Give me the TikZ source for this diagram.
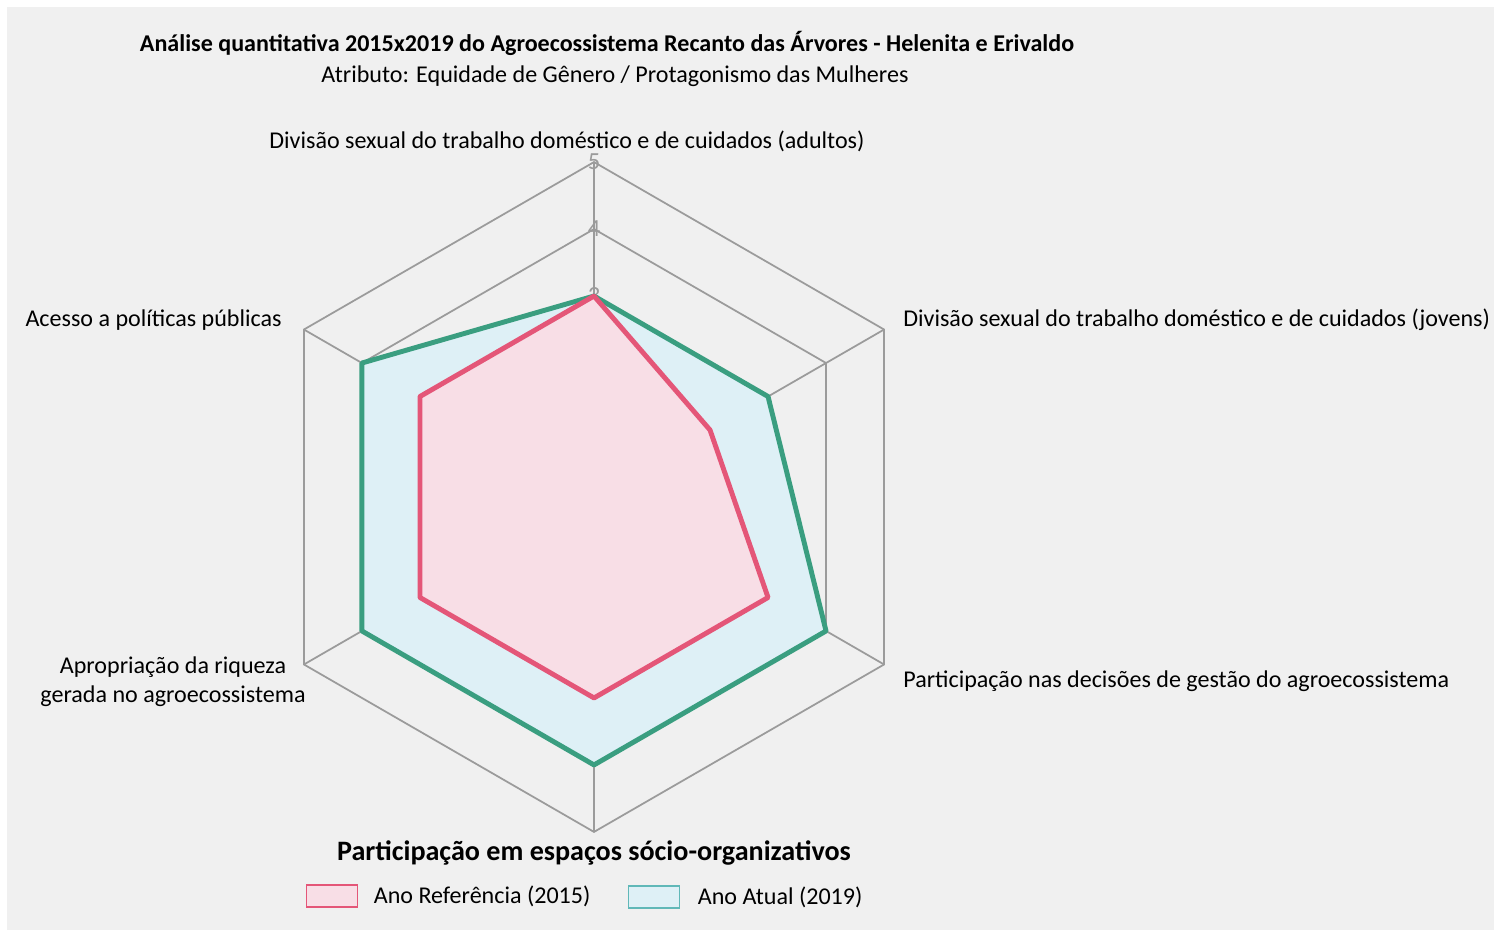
\documentclass[tikz,border=0pt]{standalone}
\usepackage{fontspec}
\setmainfont{Carlito}
\usepackage{xcolor}
\usetikzlibrary{positioning}
\definecolor{bggray}{RGB}{240,240,240}
\definecolor{gridgray}{RGB}{155,155,155}
\definecolor{refline}{RGB}{228,86,120}
\definecolor{reffill}{RGB}{248,222,230}
\definecolor{curline}{RGB}{58,158,128}
\definecolor{curfill}{RGB}{222,240,246}
\definecolor{curkey}{RGB}{96,184,184}

\begin{document}
\begin{tikzpicture}[x=0.02cm, y=0.02cm,
    axislabel/.style={font=\fontsize{13.7}{16.4}\selectfont, inner sep=0pt},
    ticklabel/.style={font=\fontsize{14}{15}\selectfont, text=gridgray, inner sep=0pt},
    grid/.style={draw=gridgray, line width=1pt},
    ref/.style={draw=refline, fill=reffill, line width=2.8pt, line join=round},
    cur/.style={draw=curline, fill=curfill, line width=2.8pt, line join=round},
    keybox/.style={minimum width=1.02cm, minimum height=0.44cm, inner sep=0pt, line width=1.1pt}]
    % background
    \fill[white] (0,0) rectangle (1494,930);
    \fill[bggray] (7,0) rectangle (1494,923);
    \useasboundingbox (0,0) rectangle (1494,930);

    % titles
    \node (title) at (607,887) [font=\fontsize{13.7}{16}\selectfont\bfseries, inner sep=0pt] {Análise quantitativa 2015x2019 do Agroecossistema Recanto das Árvores - Helenita e Erivaldo};
    \node (subtitle) at (615,854) [axislabel] {Atributo: Equidade de Gênero / Protagonismo das Mulheres};

    % radar
    \begin{scope}[shift={(594,433)}, x=1.34cm, y=1.34cm]
        \coordinate (c) at (0,0);
        \coordinate (a1) at (90:5);
        \coordinate (a2) at (30:5);
        \coordinate (a3) at (-30:5);
        \coordinate (a4) at (-90:5);
        \coordinate (a5) at (210:5);
        \coordinate (a6) at (150:5);
        \foreach \r in {1,...,5}
            \draw[grid] (90:\r) -- (30:\r) -- (-30:\r) -- (-90:\r) -- (210:\r) -- (150:\r) -- cycle;
        \draw[grid] (c) -- (a1) (c) -- (a2) (c) -- (a3) (c) -- (a4) (c) -- (a5) (c) -- (a6);
        \foreach \r in {1,...,5}
            \node (tick\r) at (90:\r) [ticklabel] {\r};
        % 2019 and 2015
        \draw[cur] (90:3) -- (30:3) -- (-30:4) -- (-90:4) -- (210:4) -- (150:4) -- cycle;
        \draw[ref] (90:3) -- (30:2) -- (-30:3) -- (-90:3) -- (210:3) -- (150:3) -- cycle;
    \end{scope}

    % axis labels
    \node (adultos) at (567,789) [axislabel] {Divisão sexual do trabalho doméstico e de cuidados (adultos)};
    \node (jovens) at (903,610) [axislabel, anchor=west] {Divisão sexual do trabalho doméstico e de cuidados (jovens)};
    \node (gestao) at (903,249) [axislabel, anchor=west] {Participação nas decisões de gestão do agroecossistema};
    \node (espacos) at (594,77) [font=\fontsize{16}{18}\selectfont\bfseries, inner sep=0pt] {Participação em espaços sócio-organizativos};
    \node (riqueza) at (173,248) [axislabel, align=center] {Apropriação da riqueza\\gerada no agroecossistema};
    \node (politicas) at (282,610) [axislabel, anchor=east] {Acesso a políticas públicas};

    % legend
    \node (refkey) at (332,34) [keybox, draw=refline, fill=reffill] {};
    \node (reftext) [axislabel, right=0.3cm of refkey] {Ano Referência (2015)};
    \node (curkey) at (654,33) [keybox, draw=curkey, fill=curfill] {};
    \node (curtext) [axislabel, right=0.34cm of curkey] {Ano Atual (2019)};
\end{tikzpicture}
\end{document}
